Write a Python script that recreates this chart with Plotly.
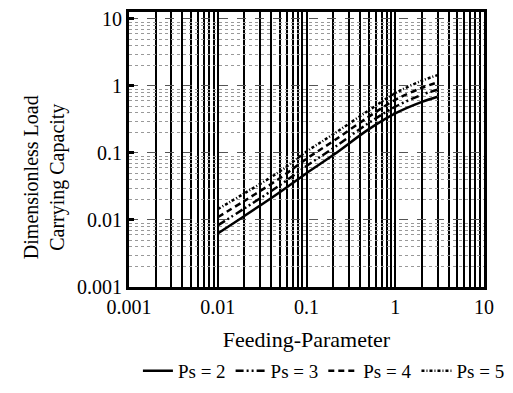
import plotly.graph_objects as go

feeding = [0.01, 0.02, 0.05, 0.1, 0.2, 0.5, 1, 2, 3]
ps2 = [0.0063, 0.0115, 0.026, 0.050, 0.093, 0.225, 0.39, 0.58, 0.69]
ps3 = [0.0083, 0.0149, 0.033, 0.064, 0.118, 0.279, 0.49, 0.74, 0.88]
ps4 = [0.011, 0.0193, 0.042, 0.082, 0.150, 0.346, 0.62, 0.94, 1.13]
ps5 = [0.0145, 0.025, 0.053, 0.105, 0.190, 0.430, 0.78, 1.20, 1.45]

series_names = ["Ps = 2", "Ps = 3", "Ps = 4", "Ps = 5"]
series_vals = [ps2, ps3, ps4, ps5]
dashes = ["solid", "8px,3px,2px,3px,2px,3px", "6px,4px", "3px,2px,1px,2px"]

x_tickvals = [0.001, 0.01, 0.1, 1, 10]
x_ticktext = ["0.001", "0.01", "0.1", "1", "10"]
y_tickvals = [0.001, 0.01, 0.1, 1, 10]
y_ticktext = ["0.001", "0.01", "0.1", "1", "10"]
x_title = "Feeding-Parameter"
y_title = "Dimensionless Load<br>Carrying Capacity"

FONT = "Liberation Serif"
minor_vals = [m * 10**e for e in range(-3, 1) for m in range(2, 10)]

fig = go.Figure()
for name, vals, d in zip(series_names, series_vals, dashes):
    fig.add_trace(go.Scatter(x=feeding, y=vals, mode="lines", name=name,
                             line=dict(color="black", width=2.5, dash=d, shape="spline")))

# page is shown with an 8px body margin, so the figure is sized to fit the window
fig.update_layout(
    width=505, height=385,
    margin=dict(l=121, r=28, t=4, b=105),
    paper_bgcolor="white", plot_bgcolor="white",
    font=dict(family=FONT, size=20, color="black"),
    showlegend=True,
    legend=dict(orientation="h", x=1.07, xanchor="right", y=-0.30, yanchor="middle",
                font=dict(family=FONT, size=19), itemwidth=30, tracegroupgap=0,
                borderwidth=0, bgcolor="rgba(0,0,0,0)"),
    annotations=[dict(text=y_title, textangle=-90, xref="paper", yref="paper",
                      x=-0.239, y=0.40, xanchor="center", yanchor="middle",
                      showarrow=False, font=dict(family=FONT, size=20))],
)
fig.update_xaxes(
    type="log", range=[-3, 1], tickvals=x_tickvals, ticktext=x_ticktext,
    showline=True, linecolor="black", linewidth=3, mirror=True,
    showgrid=True, gridcolor="black", gridwidth=2,
    minor=dict(tickvals=minor_vals, showgrid=True, gridcolor="black", gridwidth=2),
    ticks="", tickfont=dict(size=20), automargin=False,
    title=dict(text=x_title, font=dict(size=22), standoff=15),
)
fig.update_yaxes(
    type="log", range=[-3, 1.104], tickvals=y_tickvals, ticktext=y_ticktext,
    showline=True, linecolor="black", linewidth=3, mirror=True,
    showgrid=True, gridcolor="#555", gridwidth=1, griddash="dash",
    minor=dict(tickvals=minor_vals, showgrid=True, gridcolor="#999", gridwidth=1, griddash="dot"),
    ticks="inside", ticklen=5, tickwidth=3, tickcolor="black",
    tickfont=dict(size=20), automargin=False, ticklabeloverflow="allow",
)

fig.write_html("out.html")
